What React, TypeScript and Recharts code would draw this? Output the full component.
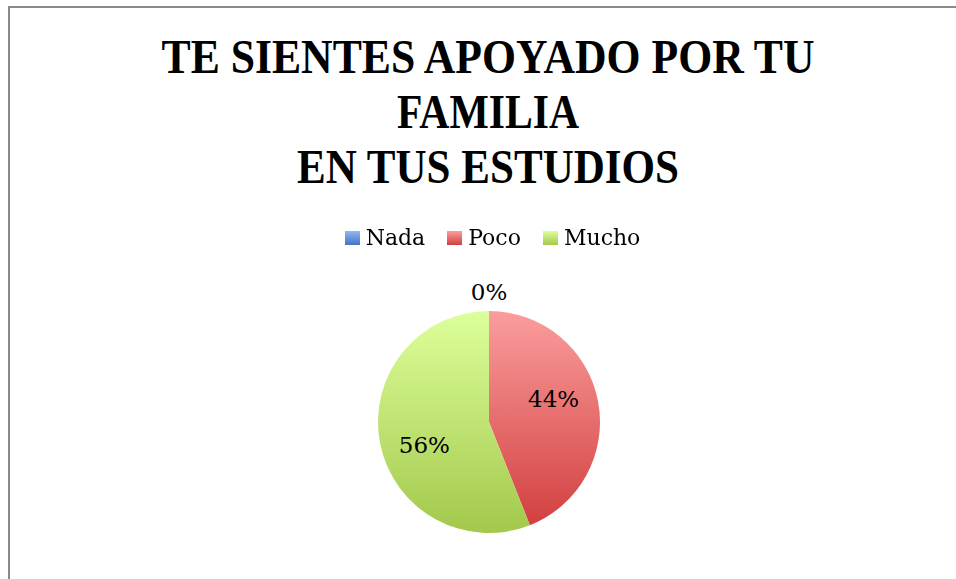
import React from "react";
import { PieChart, Pie, Cell, Legend, Customized } from "recharts";

const categories = ["Nada", "Poco", "Mucho"];
const values = [0, 44, 56];
const titleLines = ["TE SIENTES APOYADO POR TU", "FAMILIA", "EN TUS ESTUDIOS"];

const gradients = [
  { id: "gNada", top: "#92b8f3", bottom: "#4274c6" },
  { id: "gPoco", top: "#fb9d9d", bottom: "#d24040" },
  { id: "gMucho", top: "#ddff9a", bottom: "#a3c84c" },
];

const data = categories.map((name, i) => ({ name, value: values[i] }));

const RAD = Math.PI / 180;
const serif = "'DejaVu Serif', serif";

const renderLabel = (props: any) => {
  const { cx, cy, midAngle, outerRadius, value } = props;
  let r: number;
  let a: number;
  if (value === 0) {
    r = outerRadius + 19;
    a = midAngle;
  } else {
    r = outerRadius * 0.617;
    a = midAngle + 8.5;
  }
  const x = cx + r * Math.cos(-a * RAD);
  const y = cy + r * Math.sin(-a * RAD);
  return (
    <text
      x={x}
      y={y}
      textAnchor="middle"
      dominantBaseline="central"
      fontFamily={serif}
      fontSize={23}
      fill="#000"
    >
      {`${value}%`}
    </text>
  );
};

const titleWidths = [653, 182, 382];
const titleBaselines = [73, 128, 183];

const Title = () => (
  <g>
    {titleLines.map((t, i) => (
      <text
        key={t}
        x={488}
        y={titleBaselines[i]}
        textAnchor="middle"
        fontFamily="'Liberation Serif', serif"
        fontWeight="bold"
        fontSize={48}
        textLength={titleWidths[i]}
        lengthAdjust="spacingAndGlyphs"
        fill="#000"
      >
        {t}
      </text>
    ))}
  </g>
);

const LegendContent = () => (
  <div
    style={{
      display: "flex",
      justifyContent: "center",
      alignItems: "center",
      height: 26,
      lineHeight: "26px",
      fontFamily: serif,
      fontSize: 22,
      color: "#000",
      paddingLeft: 29,
    }}
  >
    {categories.map((c, i) => (
      <div key={c} style={{ display: "flex", alignItems: "center", marginRight: i < categories.length - 1 ? 22 : 0 }}>
        <div
          style={{
            width: 15,
            height: 14,
            marginRight: 6,
            background: `linear-gradient(${gradients[i].top}, ${gradients[i].bottom})`,
          }}
        />
        <span>{c}</span>
      </div>
    ))}
  </div>
);

export default function App() {
  return (
    <div>
      <svg width={0} height={0} style={{ position: "absolute" }}>
        <defs>
          {gradients.map((g) => (
            <linearGradient key={g.id} id={g.id} x1="0" y1="0" x2="0" y2="1">
              <stop offset="0%" stopColor={g.top} />
              <stop offset="100%" stopColor={g.bottom} />
            </linearGradient>
          ))}
        </defs>
      </svg>
      <div
        style={{
          position: "fixed",
          left: 8,
          top: 6,
          width: 1000,
          height: 700,
          borderTop: "2px solid #8a8a8a",
          borderLeft: "2px solid #8a8a8a",
          background: "#fff",
        }}
      />
      <div style={{ position: "fixed", left: 0, top: 0 }}>
        <PieChart width={956} height={579} margin={{ top: 0, right: 0, bottom: 0, left: 0 }}>
          <Customized component={<Title />} />
          <Legend
            content={<LegendContent />}
            wrapperStyle={{ position: "absolute", top: 225, left: 0, width: 956 }}
          />
          <Pie
            data={data}
            dataKey="value"
            nameKey="name"
            cx={489}
            cy={422}
            outerRadius={111}
            startAngle={90}
            endAngle={-270}
            stroke="none"
            label={renderLabel}
            labelLine={false}
            isAnimationActive={false}
          >
            {data.map((d, i) => (
              <Cell key={d.name} fill={`url(#${gradients[i].id})`} />
            ))}
          </Pie>
        </PieChart>
      </div>
    </div>
  );
}
